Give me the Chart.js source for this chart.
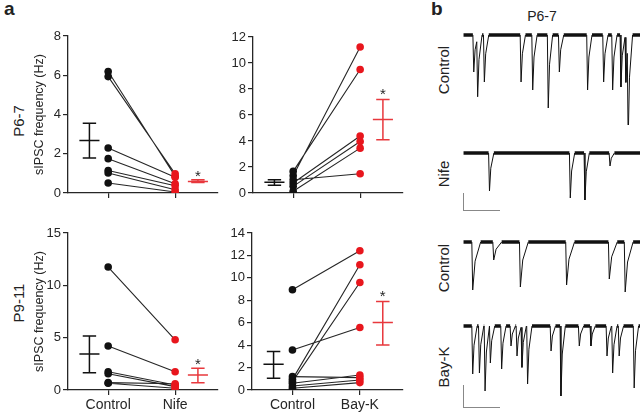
<!DOCTYPE html>
<html>
<head>
<meta charset="utf-8">
<script src="https://cdn.jsdelivr.net/npm/chart.js@4.4.1/dist/chart.umd.min.js"></script>
<style>
  body { margin: 0; width: 642px; height: 414px; background: #fff; position: relative; overflow: hidden;
         font-family: "Liberation Sans", Arial, sans-serif; color: #222; }
  canvas { position: absolute; }
  .lbl { position: absolute; white-space: nowrap; }
  .rot { transform: translate(-50%, -50%) rotate(-90deg); }
  .bar { position: absolute; border-left: 1.5px solid #888; border-bottom: 1.5px solid #888; }
</style>
</head>
<body>
<div class="lbl" style="left:4px;top:-2px;font-size:19px;font-weight:bold">a</div>
<div class="lbl" style="left:431px;top:-2px;font-size:19px;font-weight:bold">b</div>
<div class="lbl rot" style="left:18px;top:121px;font-size:15px">P6-7</div>
<div class="lbl rot" style="left:18px;top:303px;font-size:15px">P9-11</div>
<div class="lbl" style="left:542px;top:16px;font-size:14px;transform:translate(-50%,-50%)">P6-7</div>
<div class="lbl rot" style="left:443px;top:70px;font-size:15px">Control</div>
<div class="lbl rot" style="left:443px;top:174px;font-size:15px">Nife</div>
<div class="lbl rot" style="left:443px;top:268px;font-size:15px">Control</div>
<div class="lbl rot" style="left:443px;top:367px;font-size:15px">Bay-K</div>
<div class="bar" style="left:463px;top:193px;width:36px;height:17px"></div>
<div class="bar" style="left:463px;top:385px;width:36px;height:22px"></div>

<canvas id="a1" width="192" height="187" style="left:30px;top:26px"></canvas>
<canvas id="a2" width="184" height="186" style="left:223px;top:27px"></canvas>
<canvas id="a3" width="192" height="191" style="left:30px;top:223px"></canvas>
<canvas id="a4" width="185" height="191" style="left:222px;top:223px"></canvas>

<canvas id="t1" width="180" height="97" style="left:460px;top:28px"></canvas>
<canvas id="t2" width="180" height="66" style="left:460px;top:146px"></canvas>
<canvas id="t3" width="180" height="62" style="left:460px;top:235px"></canvas>
<canvas id="t4" width="180" height="90" style="left:460px;top:319px"></canvas>

<script>
// ---- panel a data (sIPSC frequency, Hz) ----
const nifeNames = ['Control', 'Nife'];
const baykNames = ['Control', 'Bay-K'];
const yTitle = 'sIPSC frequency (Hz)';

// P6-7, nifedipine
const p67NifeCtrl = [6.19, 5.93, 2.29, 1.75, 1.15, 1.02, 0.51];
const p67Nife     = [0.85, 0.98, 0.80, 0.47, 0.37, 0.17, 0.05];
const p67NifeMean = [2.68, 0.59];
const p67NifeLow  = [1.78, 0.53];
const p67NifeHigh = [3.56, 0.68];
const p67NifeTicks = [0, 2, 4, 6, 8];

// P6-7, Bay-K
const p67BaykCtrl = [1.33, 1.66, 0.77, 0.51, 0.13, 1.02];
const p67Bayk     = [11.23, 9.50, 4.39, 3.96, 3.45, 1.48];
const p67BaykMean = [0.82, 5.66];
const p67BaykLow  = [0.59, 4.09];
const p67BaykHigh = [1.02, 7.20];
const p67BaykTicks = [0, 2, 4, 6, 8, 10, 12];

// P9-11, nifedipine
const p911NifeCtrl = [11.75, 4.20, 1.75, 1.55, 0.70, 0.64];
const p911Nife     = [4.80, 1.75, 0.48, 0.32, 0.60, 0.16];
const p911NifeMean = [3.45, 1.44];
const p911NifeLow  = [1.66, 0.70];
const p911NifeHigh = [5.17, 2.07];
const p911NifeTicks = [0, 5, 10, 15];

// P9-11, Bay-K
const p911BaykCtrl = [8.94, 3.57, 1.19, 0.95, 0.75, 0.60, 0.36, 0.15];
const p911Bayk     = [12.42, 5.57, 1.10, 11.17, 9.59, 1.34, 0.89, 0.66];
const p911BaykMean = [2.29, 6.02];
const p911BaykLow  = [1.04, 4.02];
const p911BaykHigh = [3.43, 7.89];
const p911BaykTicks = [0, 2, 4, 6, 8, 10, 12, 14];

// ---- panel b data: event onset (% of sweep) and amplitude ----
const ctrl67Times = [5.3, 7.5, 11.3, 32.1, 38.7, 47.5, 53.8, 69.8, 78.9, 84.0, 88.7, 91.5, 92.8];
const ctrl67Amps  = [37, 55, 47, 47, 55, 73, 37, 55, 47, 55, 52, 45, 87];
const nife67Times = [14.2, 60.0, 68.3, 82.5];
const nife67Amps  = [38, 45, 47, 13];
const ctrlBTimes  = [4.7, 16.6, 31.7, 57.9, 82.1, 91.1];
const ctrlBAmps   = [48, 18, 45, 43, 37, 50];
const baykBTimes  = [4.7, 8.5, 11.7, 14.7, 21.1, 26.4, 29.8, 32.6, 35.8, 49.1, 54.7, 65.1, 71.7, 80.8, 84.0, 87.7, 96.2];
const baykBAmps   = [48, 47, 65, 37, 43, 20, 30, 40, 58, 25, 70, 20, 20, 30, 47, 30, 62];

const RED = '#e8161d';
const INK = '#262626';
const FONT = '"Liberation Sans", Arial, sans-serif';
const meanX = [0.72, 2.34];

const starPlugin = {
  id: 'star',
  afterDatasetsDraw(chart, args, opts) {
    if (opts.y == null) return;
    const { ctx, scales: { x, y } } = chart;
    ctx.save();
    ctx.fillStyle = INK;
    ctx.font = '15px ' + FONT;
    ctx.textAlign = 'center';
    ctx.textBaseline = 'middle';
    ctx.fillText('*', x.getPixelForValue(opts.x), y.getPixelForValue(opts.y) + 3);
    ctx.restore();
  }
};

function errorBar(x, mean, lo, hi) {
  return [
    { x: x - 0.15, y: mean }, { x: x + 0.15, y: mean }, { x: x, y: null },
    { x: x, y: lo }, { x: x, y: hi }, { x: x, y: null },
    { x: x - 0.1, y: hi }, { x: x + 0.1, y: hi }, { x: x, y: null },
    { x: x - 0.1, y: lo }, { x: x + 0.1, y: lo }
  ];
}

function pairedChart(id, c) {
  const pairs = [];
  c.ctrl.forEach((v, i) => pairs.push({ x: 1, y: v }, { x: 2, y: c.treat[i] }, { x: 1.5, y: null }));
  new Chart(document.getElementById(id), {
    type: 'scatter',
    data: {
      datasets: [
        { data: c.ctrl.map(v => ({ x: 1, y: v })), pointRadius: 3.8, pointBackgroundColor: '#111', pointBorderWidth: 0 },
        { data: c.treat.map(v => ({ x: 2, y: v })), pointRadius: 3.8, pointBackgroundColor: RED, pointBorderWidth: 0 },
        { data: pairs, showLine: true, borderColor: INK, borderWidth: 1.1, pointRadius: 0 },
        { data: errorBar(meanX[0], c.mean[0], c.low[0], c.high[0]), showLine: true, borderColor: '#111', borderWidth: 1.5, pointRadius: 0 },
        { data: errorBar(meanX[1], c.mean[1], c.low[1], c.high[1]), showLine: true, borderColor: '#e8383d', borderWidth: 1.5, pointRadius: 0 }
      ]
    },
    options: {
      responsive: false,
      animation: false,
      layout: { padding: { top: 10, right: c.padRight, left: 0, bottom: 0 } },
      plugins: { legend: { display: false }, tooltip: { enabled: false }, star: { x: meanX[1], y: c.star } },
      scales: {
        x: {
          type: 'linear', min: 0.4, max: 2.64,
          afterBuildTicks: s => { s.ticks = [{ value: 1 }, { value: 2 }]; },
          afterFit: s => { s.height = c.xAxisH; s.paddingLeft = 0; s.paddingRight = 0; },
          ticks: { callback: v => c.showNames ? c.names[v - 1] : '', color: INK, font: { family: FONT, size: 14 }, padding: 2, maxRotation: 0, autoSkip: false },
          grid: { drawOnChartArea: false, tickLength: 5, color: INK, lineWidth: 1.2 },
          border: { color: INK, width: 1.3 }
        },
        y: {
          min: 0, max: c.ticks[c.ticks.length - 1],
          afterBuildTicks: s => { s.ticks = c.ticks.map(v => ({ value: v })); },
          afterFit: s => { s.width = c.yAxisW; s.paddingTop = 0; s.paddingBottom = 0; },
          ticks: { color: INK, font: { family: FONT, size: 13 }, padding: 2 },
          title: { display: c.title, text: yTitle, color: INK, font: { family: FONT, size: 12.5 }, padding: { top: 2, bottom: 0 } },
          grid: { drawOnChartArea: false, tickLength: 5, color: INK, lineWidth: 1.2 },
          border: { color: INK, width: 1.3 }
        }
      }
    },
    plugins: [starPlugin]
  });
}

pairedChart('a1', { ctrl: p67NifeCtrl, treat: p67Nife, mean: p67NifeMean, low: p67NifeLow, high: p67NifeHigh,
  ticks: p67NifeTicks, star: 1.0, names: nifeNames, showNames: false, title: true, yAxisW: 38, xAxisH: 20, padRight: 4 });
pairedChart('a2', { ctrl: p67BaykCtrl, treat: p67Bayk, mean: p67BaykMean, low: p67BaykLow, high: p67BaykHigh,
  ticks: p67BaykTicks, star: 7.8, names: baykNames, showNames: false, title: false, yAxisW: 30, xAxisH: 20, padRight: 4 });
pairedChart('a3', { ctrl: p911NifeCtrl, treat: p911Nife, mean: p911NifeMean, low: p911NifeLow, high: p911NifeHigh,
  ticks: p911NifeTicks, star: 2.65, names: nifeNames, showNames: true, title: true, yAxisW: 38, xAxisH: 24, padRight: 4 });
pairedChart('a4', { ctrl: p911BaykCtrl, treat: p911Bayk, mean: p911BaykMean, low: p911BaykLow, high: p911BaykHigh,
  ticks: p911BaykTicks, star: 8.55, names: baykNames, showNames: true, title: false, yAxisW: 30, xAxisH: 24, padRight: 4 });

// ---- traces ----
function buildTrace(times, amps, decay) {
  const pts = [{ x: 0, y: 0 }];
  let level = 0;
  times.forEach((t, i) => {
    const next = i < times.length - 1 ? times[i + 1] : 100;
    pts.push({ x: t, y: level });
    const peak = level - amps[i];
    pts.push({ x: t + 0.5, y: peak });
    const mid = t + 0.5 + decay * 0.3;
    const end = t + 0.5 + decay;
    if (mid < next) pts.push({ x: mid, y: peak * 0.4 });
    if (end <= next) {
      pts.push({ x: end, y: 0 });
      level = 0;
    } else {
      level = mid < next ? peak * 0.4 * (1 - (next - mid) / (end - mid)) : peak * 0.6;
    }
  });
  pts.push({ x: 100, y: 0 });
  return pts;
}

function traceChart(id, times, amps, decay, yMin) {
  new Chart(document.getElementById(id), {
    type: 'line',
    data: {
      datasets: [{
        data: buildTrace(times, amps, decay),
        borderColor: '#111', borderWidth: 1, pointRadius: 0, tension: 0,
        segment: { borderWidth: s => (s.p0.parsed.y === 0 && s.p1.parsed.y === 0) ? 3.5 : 1 }
      }]
    },
    options: {
      responsive: false,
      animation: false,
      layout: { padding: 0 },
      plugins: { legend: { display: false }, tooltip: { enabled: false } },
      scales: {
        x: { type: 'linear', display: false, min: -2, max: 100 },
        y: { display: false, min: yMin, max: 7 }
      }
    }
  });
}

traceChart('t1', ctrl67Times, ctrl67Amps, 2.5, -90);
traceChart('t2', nife67Times, nife67Amps, 2.5, -59);
traceChart('t3', ctrlBTimes, ctrlBAmps, 4.5, -55);
traceChart('t4', baykBTimes, baykBAmps, 2.5, -83);
</script>
</body>
</html>
